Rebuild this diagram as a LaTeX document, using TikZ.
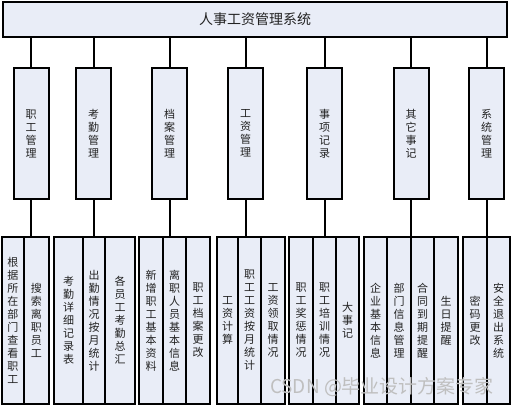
\documentclass[tikz,border=0pt]{standalone}
\usepackage{fontspec}
\setmainfont{Noto Sans CJK SC}
\XeTeXlinebreaklocale "zh"
\XeTeXlinebreakskip=0pt plus 1pt
\setlength{\parindent}{0pt}
\definecolor{boxfill}{HTML}{E9EDF7}
\definecolor{txtgray}{HTML}{222222}

\begin{document}
\begin{tikzpicture}[x=1pt,y=-1pt,
	box/.style={draw,line width=2pt,fill=boxfill,text=txtgray,inner sep=0pt},
	titlebox/.style={box,minimum width=504,minimum height=35,font=\fontsize{14}{16}\selectfont},
	modbox/.style={box,minimum width=35,minimum height=131,text width=12,align=center,font=\fontsize{11}{13}\selectfont},
	leaf/.style={box,minimum height=167,text width=12,align=center,font=\fontsize{11}{13}\selectfont},
	conn/.style={line width=2pt},
	watermark/.style={text=gray!50,font=\fontsize{19}{21}\selectfont}]
	\useasboundingbox (0,0) rectangle (512,408);
	% top
	\node[titlebox] (sys) at (255,19.5) {人事工资管理系统};
	% modules
	\node[modbox] (m1) at (31,133.5) {职工管理};
	\node[modbox] (m2) at (93.5,133.5) {考勤管理};
	\node[modbox] (m3) at (169.5,133.5) {档案管理};
	\node[modbox] (m4) at (245.5,133.5) {工资管理};
	\node[modbox] (m5) at (324.5,133.5) {事项记录};
	\node[modbox] (m6) at (411,133.5) {其它事记};
	\node[modbox] (m7) at (486.5,133.5) {系统管理};
	% leaves
	\node[leaf,minimum width=22] (l11) at (13,320.5) {根据所在部门查看职工};
	\node[leaf,minimum width=25] (l12) at (36.5,320.5) {搜索离职员工};
	\node[leaf,minimum width=29] (l21) at (68.5,320.5) {考勤详细记录表};
	\node[leaf,minimum width=22] (l22) at (94,320.5) {出勤情况按月统计};
	\node[leaf,minimum width=30] (l23) at (120,320.5) {各员工考勤总汇};
	\node[leaf,minimum width=24] (l31) at (151,320.5) {新增职工基本资料};
	\node[leaf,minimum width=23] (l32) at (174.5,320.5) {离职人员基本信息};
	\node[leaf,minimum width=24] (l33) at (198,320.5) {职工档案更改};
	\node[leaf,minimum width=21] (l41) at (227.5,320.5) {工资计算};
	\node[leaf,minimum width=23] (l42) at (249.5,320.5) {职工工资按月统计};
	\node[leaf,minimum width=24] (l43) at (273,320.5) {工资领取情况};
	\node[leaf,minimum width=24] (l51) at (301,320.5) {职工奖惩情况};
	\node[leaf,minimum width=23] (l52) at (324.5,320.5) {职工培训情况};
	\node[leaf,minimum width=23] (l53) at (347.5,320.5) {大事记};
	\node[leaf,minimum width=23] (l61) at (375.5,320.5) {企业基本信息};
	\node[leaf,minimum width=24] (l62) at (399,320.5) {部门信息管理};
	\node[leaf,minimum width=23] (l63) at (422.5,320.5) {合同到期提醒};
	\node[leaf,minimum width=24] (l64) at (446,320.5) {生日提醒};
	\node[leaf,minimum width=24] (l71) at (475,320.5) {密码更改};
	\node[leaf,minimum width=23] (l72) at (498.5,320.5) {安全退出系统};
	% connectors
	\foreach \m in {1,...,7}
		\draw[conn] (sys.south -| m\m) -- (m\m.north);
	\draw[conn] (m1.south) -- (m1.south |- l12.north);
	\draw[conn] (m2.south) -- (m2.south |- l22.north);
	\draw[conn] (m3.south) -- (m3.south |- l32.north);
	\draw[conn] (m4.south) -- (m4.south |- l42.north);
	\draw[conn] (m5.south) -- (m5.south |- l52.north);
	\draw[conn] (m6.south) -- (m6.south |- l63.north);
	\draw[conn] (m7.south) -- (m7.south |- l72.north);
	\node[watermark] (wm) at (382,387) {CSDN @毕业设计方案专家};
\end{tikzpicture}
\end{document}
